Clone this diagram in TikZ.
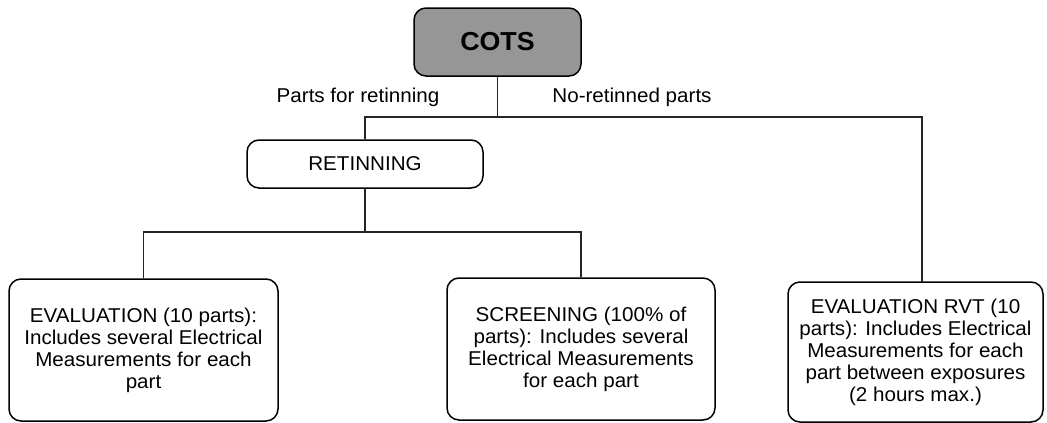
\documentclass[tikz,border=0pt]{standalone}
\usepackage{fontspec}
\setmainfont[FakeStretch=1.03]{Liberation Sans}
\usetikzlibrary{calc}
\begin{document}
\begin{tikzpicture}[x=1pt,y=-1pt,
  box/.style={draw=black, line width=1.5pt, rounded corners=12pt, fill=white,
    inner sep=0pt, align=center, font=\fontsize{20}{22}\selectfont},
  link/.style={draw=black!85, line width=1.3pt},
  lbl/.style={inner sep=0pt, font=\fontsize{20}{22}\selectfont}]
\useasboundingbox (0,0) rectangle (1047,423);

% boxes
\node[box, fill=black!41, minimum width=167pt, minimum height=68pt,
      font=\fontsize{26}{30}\bfseries] (cots) at (497.5,42) {COTS};
\node[box, minimum width=236pt, minimum height=48pt] (ret) at (365,164) {RETINNING};
\node[box, minimum width=269pt, minimum height=142pt] (eval) at (143.5,350)
  {\raisebox{-3pt}{\parbox{260pt}{\centering EVALUATION (10 parts):\\Includes several Electrical\\Measurements for each\\part}}};
\node[box, minimum width=268pt, minimum height=142pt] (scr) at (581,349)
  {SCREENING (100\% of\\parts): Includes several\\Electrical Measurements\\for each part};
\node[box, minimum width=255pt, minimum height=140pt] (rvt) at (915.5,352)
  {EVALUATION RVT (10\\parts): Includes Electrical\\Measurements for each\\part between exposures\\(2 hours max.)};

% junctions
\coordinate (j1) at (497.5,117);
\coordinate (j2) at (365,232);
\coordinate (rvtin) at (922,282);

% connectors
\draw[link] (cots.south) -- (j1);
\draw[link] (ret.north) |- (j1) -| (rvtin);
\draw[link] (ret.south) -- (j2);
\draw[link] (eval.north) |- (j2) -| (scr.north);

% branch labels
\node[lbl] (lret) at (358,97) {Parts for retinning};
\node[lbl] (lno) at (632,97) {No-retinned parts};
\end{tikzpicture}
\end{document}
